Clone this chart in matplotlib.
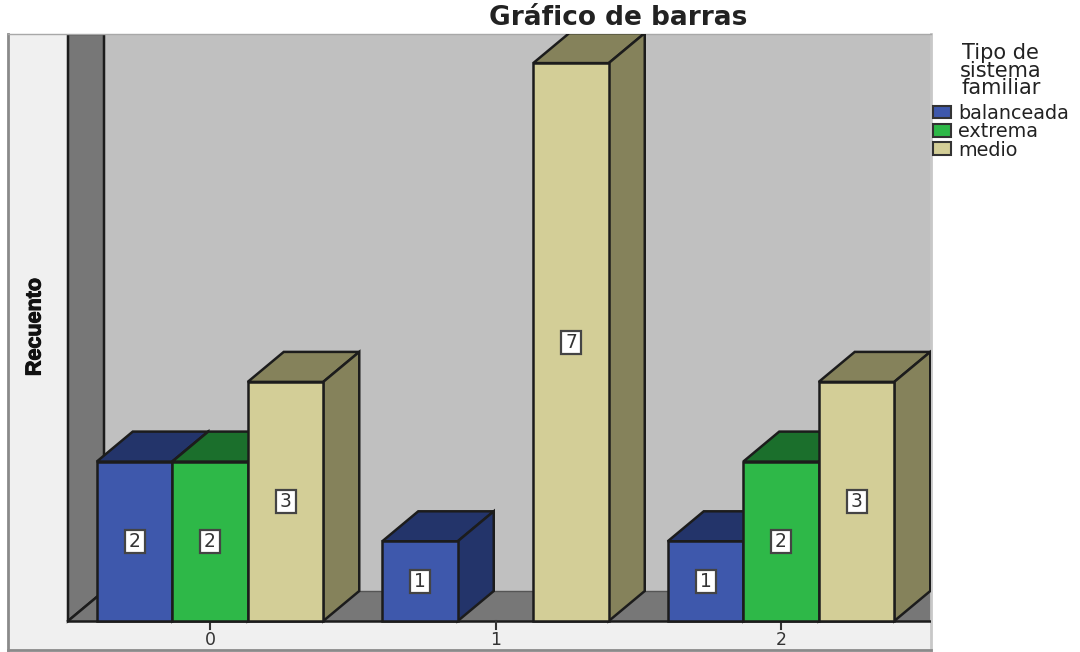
import matplotlib
matplotlib.use("Agg")
import matplotlib.pyplot as plt
import matplotlib.patheffects as pe
from matplotlib.patches import Patch, Polygon, Rectangle

# chart values
categories = ["0", "1", "2"]
series_names = ["balanceada", "extrema", "medio"]
balanceada = [2, 1, 1]
extrema = [2, 0, 2]
medio = [3, 7, 3]

front_colors = ["#3e58ac", "#2eb848", "#d3ce97"]
top_colors = ["#23346a", "#1b6f2c", "#85825b"]
side_colors = ["#23346a", "#1b6f2c", "#85825b"]
edge = "#1c1c1c"

W, H = 1080, 652
# pixels per data unit
px_x = 285.5
px_y = 79.7
left, right, top, bottom = 8, 931, 34, 650
x0_px, y0_px = 210, 621

bar_w = 75.5 / px_x
dx = 36 / px_x
dy = 30 / px_y

fig = plt.figure(figsize=(W / 100, H / 100), dpi=100)
ax = fig.add_axes([left / W, 1 - bottom / H, (right - left) / W, (bottom - top) / H])
ax.set_xlim((left - x0_px) / px_x, (right - x0_px) / px_x)
ax.set_ylim((y0_px - bottom) / px_y, (y0_px - top) / px_y)
ax.set_facecolor("#f0f0f0")
for s in ax.spines.values():
    s.set_color("#8a8a8a")
    s.set_linewidth(2)
ax.spines["top"].set_color("#a8a8a8")
ax.spines["top"].set_linewidth(1)
ax.spines["right"].set_color("#c8c8c8")

xmin, xmax = ax.get_xlim()
ymin, ymax = ax.get_ylim()
wall_x = (68 - x0_px) / px_x

# back wall, side wall, floor
ax.add_patch(Rectangle((wall_x + dx, dy), xmax - wall_x - dx, ymax - dy, fc="#c0c0c0", ec="none", zorder=1))
ax.add_patch(Polygon([(wall_x, 0), (wall_x + dx, dy), (wall_x + dx, ymax), (wall_x, ymax)],
                     fc="#777777", ec=edge, lw=1.8, zorder=2))
ax.add_patch(Polygon([(wall_x, 0), (wall_x + dx, dy), (xmax, dy), (xmax, 0)],
                     fc="#777777", ec="none", zorder=2))
ax.plot([wall_x + dx, xmax], [dy, dy], color="#555555", lw=1, zorder=2)
ax.plot([wall_x, xmax], [0, 0], color=edge, lw=1.8, zorder=3)
ax.plot([wall_x, wall_x + dx], [0, dy], color=edge, lw=1.8, zorder=3)


def draw_bar(x, h, i, z):
    ax.add_patch(Polygon([(x, h), (x + bar_w, h), (x + bar_w + dx, h + dy), (x + dx, h + dy)],
                         fc=top_colors[i], ec=edge, lw=1.8, zorder=z))
    ax.add_patch(Polygon([(x + bar_w, 0), (x + bar_w + dx, dy), (x + bar_w + dx, h + dy), (x + bar_w, h)],
                         fc=side_colors[i], ec=edge, lw=1.8, zorder=z))
    ax.bar(x, h, width=bar_w, align="edge", color=front_colors[i], edgecolor=edge, linewidth=1.8, zorder=z + 0.1)


box_w = 20 / px_x
box_h = 23 / px_y

z = 4
for c in range(len(categories)):
    for i, values in enumerate([balanceada, extrema, medio]):
        h = values[c]
        if h == 0:
            continue
        x = c + (i - 1.5) * bar_w
        draw_bar(x, h, i, z)
        mid = x + bar_w / 2
        ax.add_patch(Rectangle((mid - box_w / 2, h / 2 - box_h / 2), box_w, box_h,
                               fc="white", ec="#444444", lw=1.6, zorder=49))
        ax.text(mid, h / 2, str(h), ha="center", va="center", fontsize=13.5,
                family="DejaVu Sans", color="#333333", zorder=50)
        z += 1

# category labels sit inside the frame strip under the floor
ax.set_xticks([])
ax.set_yticks([])
for c, label in enumerate(categories):
    ax.plot([c, c], [0, -8 / px_y], color="#333333", lw=1.5, zorder=3)
    ax.text(c, -19 / px_y, label, ha="center", va="center", fontsize=12.5, color="#333333",
            family="DejaVu Sans", zorder=3)
ax.set_xlim(xmin, xmax)
ax.set_ylim(ymin, ymax)

fig.text(618 / W, 1 - 18 / H, "Gráfico de barras", ha="center", va="center", fontsize=19,
         fontweight="bold", family="DejaVu Sans", color="#222222")
fig.text(35 / W, 1 - 327 / H, "Recuento", rotation=90, ha="center", va="center", fontsize=15.5,
         fontweight="bold", family="Liberation Sans", color="#111111",
         path_effects=[pe.withStroke(linewidth=0.8, foreground="#111111")])

handles = [Patch(facecolor=front_colors[i], edgecolor="#333333", linewidth=1.5, label=series_names[i])
           for i in range(3)]
leg = fig.legend(handles=handles, title="Tipo de\nsistema\nfamiliar", loc="upper left",
                 bbox_to_anchor=(933 / W, 1 - 43 / H), bbox_transform=fig.transFigure, frameon=False,
                 prop={"family": "DejaVu Sans", "size": 13.8},
                 title_fontproperties={"family": "DejaVu Sans", "size": 15},
                 alignment="center", handlelength=0.95, handleheight=0.65, handletextpad=0.35,
                 labelspacing=-0.03, borderpad=0, borderaxespad=0)
leg.get_title().set_linespacing(0.85)
leg.get_title().set_multialignment("center")
leg.get_title().set_color("#222222")
leg._legend_box.sep = 4
for t in leg.get_texts():
    t.set_color("#222222")

fig.savefig("out.png", dpi=100)
